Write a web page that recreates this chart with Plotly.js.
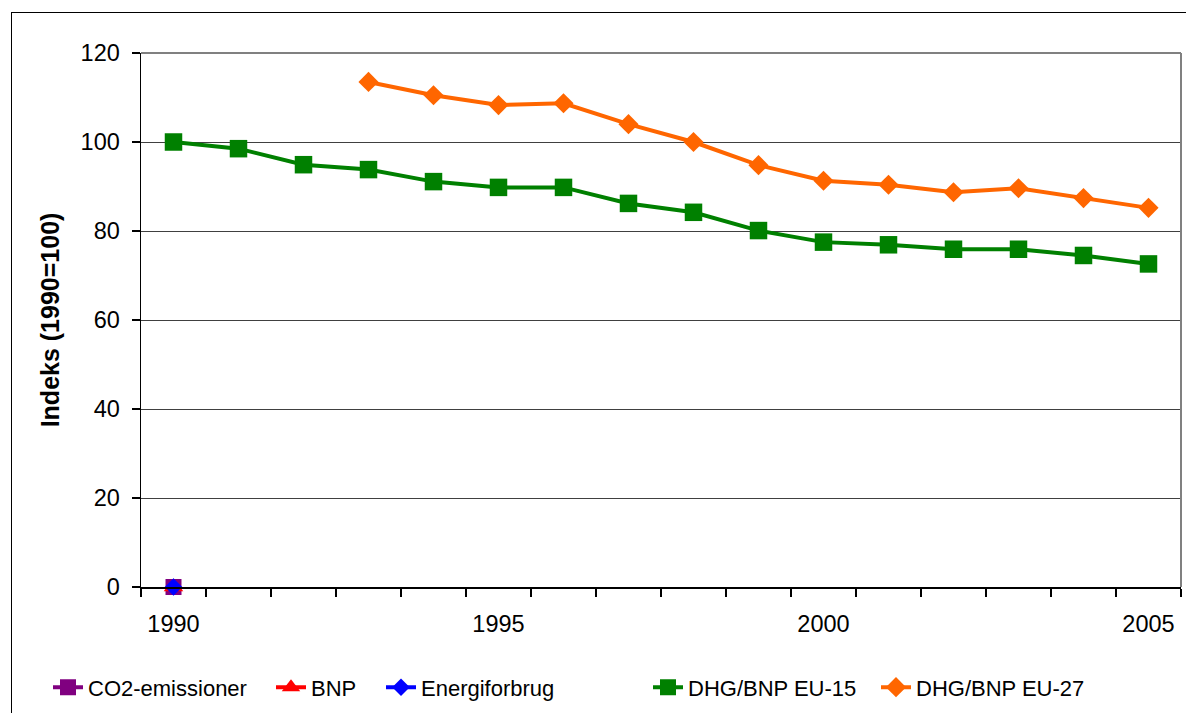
<!DOCTYPE html>
<html>
<head>
<meta charset="utf-8">
<script src="https://cdn.plot.ly/plotly-3.0.1.min.js"></script>
<style>
  html, body { margin: 0; padding: 0; background: #fff; }
  #chart { width: 1186px; height: 713px; position: absolute; left: 0; top: 0; }
  #frame { position: absolute; left: 11px; top: 12px; width: 1300px; height: 800px;
           border-left: 1.5px solid #000; border-top: 1.5px solid #000; pointer-events: none; }
</style>
</head>
<body>
<div id="chart"></div>
<div id="frame"></div>
<script>
const years = [1990,1991,1992,1993,1994,1995,1996,1997,1998,1999,2000,2001,2002,2003,2004,2005];
const co2 = [0,null,null,null,null,null,null,null,null,null,null,null,null,null,null,null];
const bnp = [0,null,null,null,null,null,null,null,null,null,null,null,null,null,null,null];
const energi = [0,null,null,null,null,null,null,null,null,null,null,null,null,null,null,null];
const eu15 = [100,98.5,94.9,93.8,91.1,89.8,89.8,86.2,84.2,80.1,77.5,76.9,75.9,75.9,74.5,72.6];
const eu27 = [null,null,null,113.5,110.5,108.3,108.7,104.0,100.0,94.8,91.3,90.4,88.7,89.6,87.4,85.2];
const seriesNames = ['CO2-emissioner','BNP','Energiforbrug','DHG/BNP EU-15','DHG/BNP EU-27'];
const xTickVals = [1990,1995,2000,2005];
const xTickText = ['1990','1995','2000','2005'];
const xBoundaries = [1989.5,1990.5,1991.5,1992.5,1993.5,1994.5,1995.5,1996.5,1997.5,1998.5,1999.5,2000.5,2001.5,2002.5,2003.5,2004.5,2005.5];
const yTickVals = [0,20,40,60,80,100,120];

const FONT = 'Liberation Sans, Arial, sans-serif';
const L = 141, PW = 1040;

function tr(i, y, color, symbol, size) {
  return {
    type: 'scatter', mode: 'lines+markers', name: seriesNames[i], x: years, y: y,
    legend: i === 0 ? 'legend' : 'legend' + (i + 1),
    line: {color: color, width: 4},
    marker: {symbol: symbol, size: size, color: color},
    cliponaxis: false, connectgaps: false
  };
}

const data = [
  tr(0, co2, '#800080', 'square', 16),
  tr(1, bnp, '#ff0000', 'triangle-up', 17),
  tr(2, energi, '#0000ff', 'diamond', 13.5),
  tr(3, eu15, '#008000', 'square', 17.5),
  tr(4, eu27, '#ff6600', 'diamond', 15.5)
];

function leg(px) {
  return {
    orientation: 'h', x: (px - L) / PW, xanchor: 'left', y: -0.188, yanchor: 'middle',
    font: {family: FONT, size: 22, color: '#000'},
    bgcolor: 'rgba(0,0,0,0)', borderwidth: 0
  };
}

const layout = {
  width: 1186, height: 713,
  paper_bgcolor: '#ffffff', plot_bgcolor: '#ffffff',
  margin: {l: 141, r: 5, t: 53, b: 123},
  font: {family: FONT, size: 22, color: '#000'},
  showlegend: true,
  legend: leg(48),
  legend2: leg(271),
  legend3: leg(381),
  legend4: leg(648),
  legend5: leg(876),
  xaxis: {
    type: 'linear', range: [1989.5, 2005.5],
    tickmode: 'array', tickvals: xTickVals, ticktext: xTickText,
    ticks: 'outside', ticklen: 8, tickcolor: 'rgba(0,0,0,0)',
    ticklabelstandoff: 7,
    minor: {tickmode: 'array', tickvals: xBoundaries, ticks: 'outside', ticklen: 8, tickcolor: '#000', tickwidth: 1.3, showgrid: false},
    showgrid: false, zeroline: false,
    showline: true, linecolor: '#000', linewidth: 1.5,
    tickfont: {family: FONT, size: 23.5, color: '#000'}
  },
  yaxis: {
    range: [0, 120], tickmode: 'array', tickvals: yTickVals,
    ticks: 'outside', ticklen: 8, tickcolor: '#000', tickwidth: 1.3,
    ticklabelstandoff: 7,
    showgrid: true, gridcolor: '#404040', gridwidth: 1,
    zeroline: false, showline: true, linecolor: '#000', linewidth: 1.5,
    tickfont: {family: FONT, size: 23.5, color: '#000'},
    title: {text: '<b>Indeks (1990=100)</b>', font: {family: FONT, size: 25, color: '#000'}, standoff: 14}
  },
  shapes: [
    {type: 'line', xref: 'paper', yref: 'paper', x0: 0, x1: 1, y0: 1, y1: 1, line: {color: '#808080', width: 2}},
    {type: 'line', xref: 'paper', yref: 'paper', x0: 1, x1: 1, y0: 0, y1: 1, line: {color: '#808080', width: 2}}
  ]
};

Plotly.newPlot('chart', data, layout, {displayModeBar: false, staticPlot: true});
</script>
</body>
</html>
